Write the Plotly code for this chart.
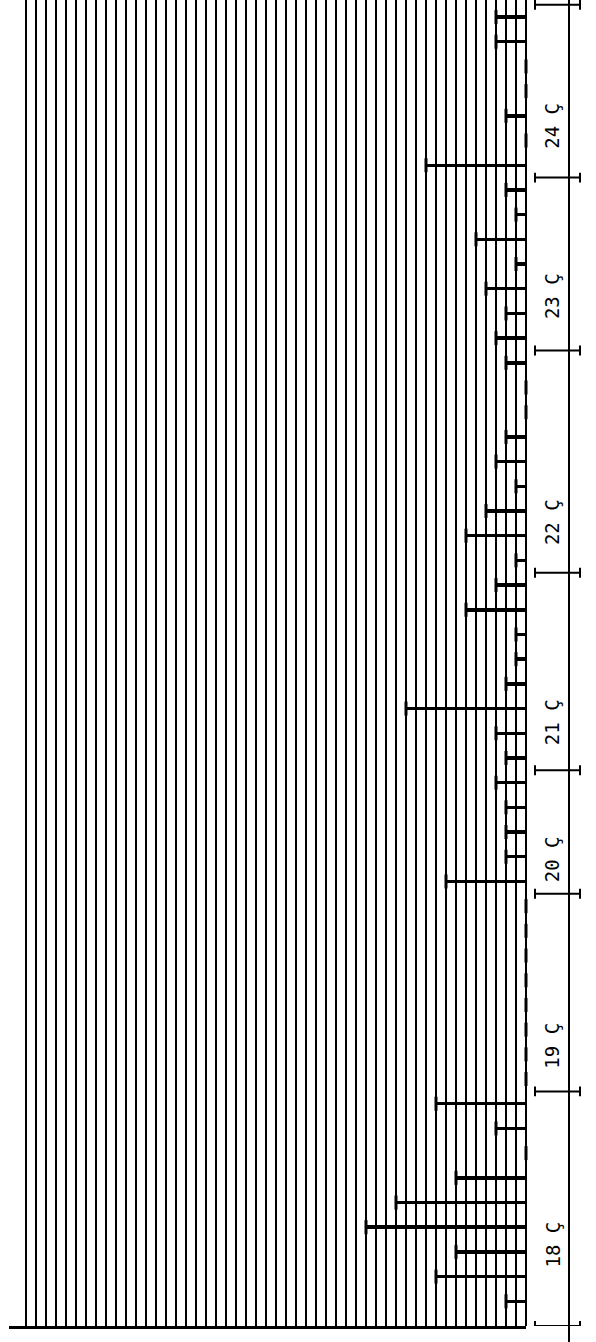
import plotly.graph_objects as go

# ---------------- data ----------------
centuries = ["18 Ç", "19 Ç", "20 Ç", "21 Ç", "22 Ç", "23 Ç", "24 Ç"]
# bar values per century, listed from the earliest row to the latest row
values_18 = [2, 9, 7, 16, 13, 7, 0, 3, 9]
values_19 = [0, 0, 0, 0, 0, 0, 0, 0]
values_20 = [8, 2, 2, 2, 3]
values_21 = [2, 3, 12, 2, 1, 1, 6, 3]
values_22 = [1, 6, 4, 1, 3, 2, 0, 0, 2]
values_23 = [3, 2, 4, 1, 5, 1, 2]
values_24 = [10, 0, 2, 0, 0, 3, 3]
n_levels = 50  # number of grid levels drawn across the chart

groups = [values_18, values_19, values_20, values_21, values_22, values_23, values_24]
values = [v for g in groups for v in g]
rows = list(range(1, len(values) + 1))

# century boundaries (half-way between rows)
edges = [0.5]
for g in groups:
    edges.append(edges[-1] + len(g))

# ---------------- layout constants ----------------
W, H = 596, 1342
L, R, T, B = 9, 70, 0, 16
plot_w = W - L - R
plot_h = H - T - B
x_max = plot_w / 10.0          # 10 px per grid level
y_min, y_max = 0.0, 53.69
edges[0] = y_min               # lowest tick sits on the baseline
label_y_pos = [3.3, 11.35, 18.9, 24.45, 32.55, 41.7, 48.6]


def px_to_paper_x(px):
    return (px - L) / plot_w


axis_x = px_to_paper_x(569)
beam_x0 = px_to_paper_x(535)
beam_x1 = px_to_paper_x(580)
label_x = px_to_paper_x(552)

fig = go.Figure()
fig.add_trace(go.Bar(
    x=values, y=rows, orientation="h", base=0, width=0.14,
    marker=dict(color="black", line=dict(width=0)),
    hoverinfo="x+y", showlegend=False,
))
fig.add_trace(go.Scatter(
    x=values, y=rows, mode="markers", cliponaxis=False,
    marker=dict(symbol="line-ns", size=10, color="black",
                line=dict(width=3, color="black")),
    hoverinfo="skip", showlegend=False,
))

shapes = []
# right-hand century axis line
shapes.append(dict(type="line", xref="paper", yref="paper",
                   x0=axis_x, x1=axis_x, y0=-B / plot_h, y1=1,
                   line=dict(color="black", width=2)))
serif = 0.2
for e in edges:
    shapes.append(dict(type="line", xref="paper", yref="y",
                       x0=beam_x0, x1=beam_x1, y0=e, y1=e,
                       line=dict(color="black", width=2)))
    for bx in (beam_x0, beam_x1):
        shapes.append(dict(type="line", xref="paper", yref="y",
                           x0=bx, x1=bx, y0=e - serif, y1=e + serif,
                           line=dict(color="black", width=2)))

annotations = []
for name, yv in zip(centuries, label_y_pos):
    annotations.append(dict(
        text=name, xref="paper", yref="y", x=label_x, y=yv,
        showarrow=False, textangle=-90, xanchor="center", yanchor="middle",
        font=dict(family="DejaVu Sans Mono", size=19, color="black"),
    ))

fig.update_layout(
    width=W, height=H,
    margin=dict(l=L, r=R, t=T, b=B, pad=0),
    paper_bgcolor="white", plot_bgcolor="white",
    bargap=0, showlegend=False,
    shapes=shapes, annotations=annotations,
    xaxis=dict(range=[x_max, 0], tickmode="array",
               tickvals=list(range(0, n_levels + 1)),
               showticklabels=False, ticks="",
               showgrid=True, gridcolor="black", gridwidth=2,
               zeroline=True, zerolinecolor="black", zerolinewidth=2,
               showline=True, linecolor="black", linewidth=3, mirror=False),
    yaxis=dict(range=[y_min, y_max], showgrid=False, zeroline=False,
               showticklabels=False, ticks="", showline=False),
)

fig.write_html("out.html",
               config={"displayModeBar": False},
               post_script="document.body.style.margin='0';document.body.style.overflow='hidden';")
